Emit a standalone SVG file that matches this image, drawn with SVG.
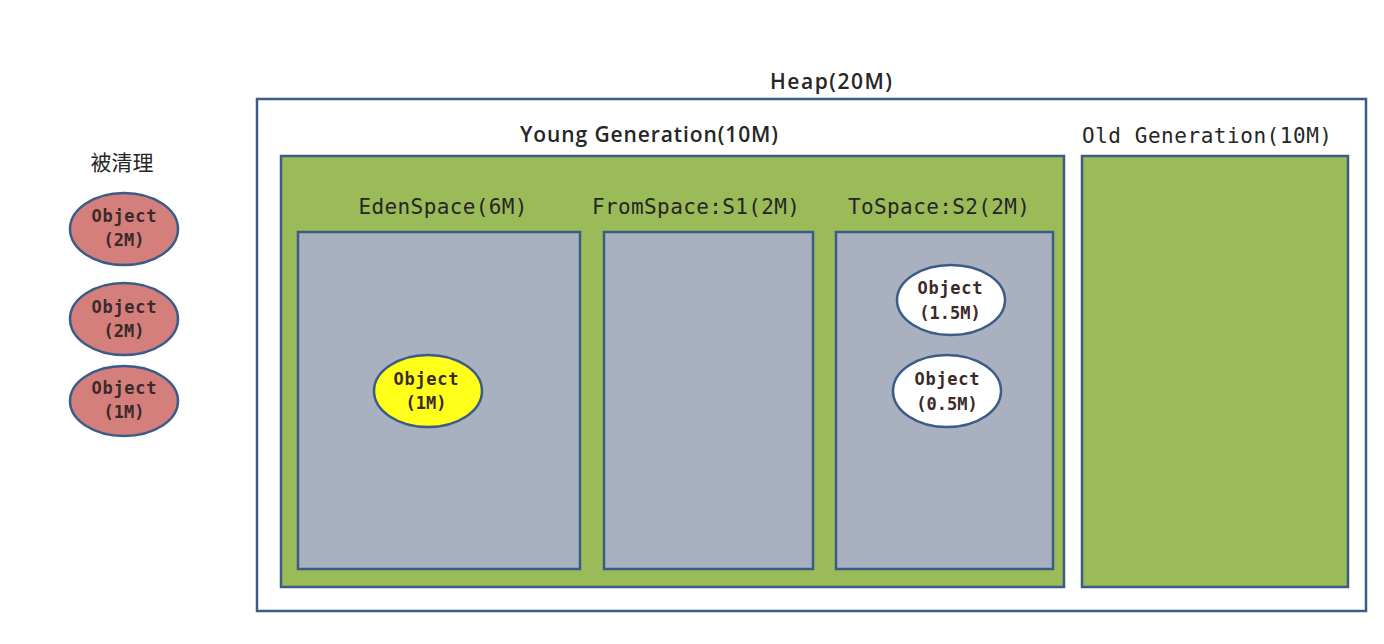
<svg xmlns="http://www.w3.org/2000/svg" width="1384" height="644" viewBox="0 0 1384 644">
<style>
.box{stroke:#3a5c87;stroke-width:2.5}
.green{fill:#9bbb59}
.space{fill:#a9b0c0}
.obj{stroke:#3a5c87;stroke-width:2.5}
.mono{font-family:"DejaVu Sans Mono","Liberation Mono",monospace;fill:#262626}
.sans{font-family:"Open Sans","Liberation Sans",sans-serif;font-weight:600;fill:#262626}
.ot{font-family:"DejaVu Sans Mono","Liberation Mono",monospace;font-weight:bold;font-size:17px;fill:#3a2a2a;text-anchor:middle}
</style>
<rect width="1384" height="644" fill="#ffffff"/>
<g id="heap">
<rect class="box" x="257" y="99" width="1109" height="512" fill="#ffffff"/>
<text class="sans" x="831" y="89" font-size="21" text-anchor="middle" textLength="122">Heap(20M)</text>
</g>
<g id="young">
<rect class="box green" x="281" y="156" width="783" height="431"/>
<text class="sans" x="649" y="142" font-size="21" text-anchor="middle" textLength="258">Young Generation(10M)</text>
</g>
<g id="old">
<rect class="box green" x="1082" y="156" width="266" height="431"/>
<text class="mono" x="1082" y="143" font-size="21" textLength="250">Old Generation(10M)</text>
</g>
<g id="eden">
<rect class="box space" x="298" y="232" width="282" height="337"/>
<text class="mono" x="443" y="214" font-size="21" text-anchor="middle" textLength="169">EdenSpace(6M)</text>
</g>
<g id="from">
<rect class="box space" x="604" y="232" width="209" height="337"/>
<text class="mono" x="696" y="214" font-size="21" text-anchor="middle" textLength="208">FromSpace:S1(2M)</text>
</g>
<g id="to">
<rect class="box space" x="836" y="232" width="217" height="337"/>
<text class="mono" x="939" y="214" font-size="21" text-anchor="middle" textLength="182">ToSpace:S2(2M)</text>
</g>
<g id="cleaned-label">
<text x="122" y="170" font-size="21" text-anchor="middle" style="font-family:'Noto Sans CJK SC',sans-serif;fill:#262626">被清理</text>
</g>
<g id="obj-red1">
<ellipse class="obj" cx="124" cy="229" rx="54" ry="36" fill="#d47f7b"/>
<text class="ot" x="124" y="222" textLength="65">Object</text>
<text class="ot" x="124" y="246">(2M)</text>
</g>
<g id="obj-red2">
<ellipse class="obj" cx="124" cy="319" rx="54" ry="36" fill="#d47f7b"/>
<text class="ot" x="124" y="313" textLength="65">Object</text>
<text class="ot" x="124" y="337">(2M)</text>
</g>
<g id="obj-red3">
<ellipse class="obj" cx="124" cy="401" rx="54" ry="35" fill="#d47f7b"/>
<text class="ot" x="124" y="394" textLength="65">Object</text>
<text class="ot" x="124" y="418">(1M)</text>
</g>
<g id="obj-yellow">
<ellipse class="obj" cx="428" cy="391" rx="54" ry="36" fill="#ffff1a"/>
<text class="ot" x="426" y="385" textLength="65">Object</text>
<text class="ot" x="426" y="409">(1M)</text>
</g>
<g id="obj-white1">
<ellipse class="obj" cx="951" cy="300" rx="54" ry="35" fill="#ffffff"/>
<text class="ot" x="950" y="294" textLength="65">Object</text>
<text class="ot" x="950" y="319">(1.5M)</text>
</g>
<g id="obj-white2">
<ellipse class="obj" cx="947" cy="391" rx="54" ry="36" fill="#ffffff"/>
<text class="ot" x="947" y="385" textLength="65">Object</text>
<text class="ot" x="947" y="410">(0.5M)</text>
</g>
<g id="connectors"></g>
</svg>
